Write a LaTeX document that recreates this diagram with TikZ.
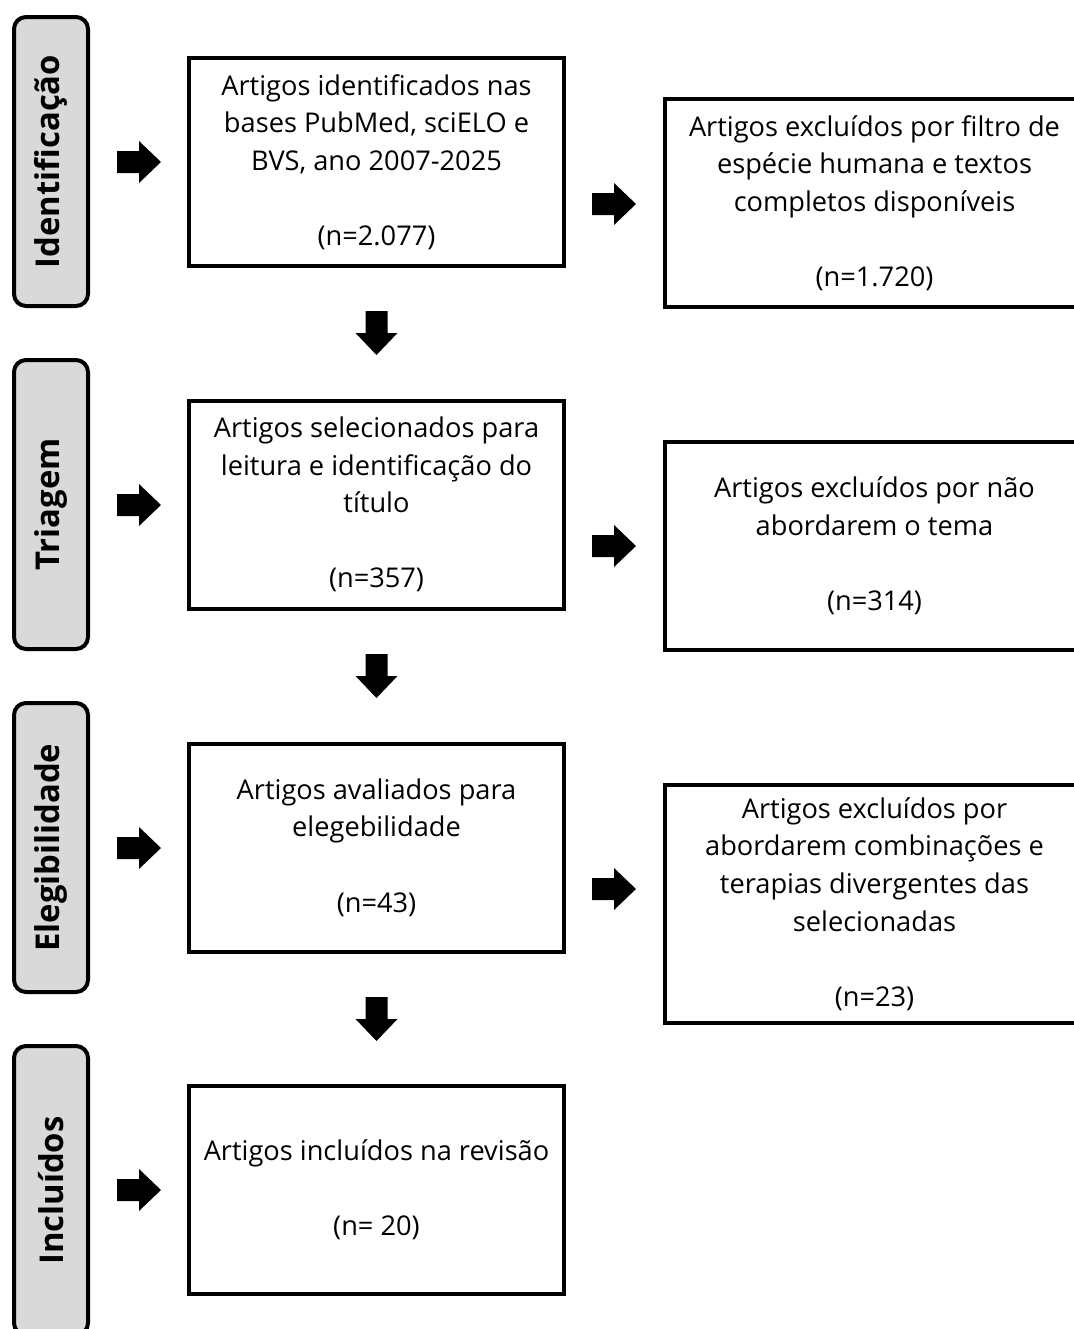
\documentclass[tikz,border=0pt]{standalone}
\usepackage{fontspec}
\setmainfont{Open Sans}
\begin{document}
\begin{tikzpicture}[x=0.75pt,y=-0.75pt,
  lbl/.style={draw=black,line width=3pt,fill=labelgray,rounded corners=9pt,
    minimum width=74*0.75pt,minimum height=289*0.75pt,inner sep=0pt},
  lbltext/.style={rotate=90,font=\fontsize{24.6pt}{28pt}\selectfont\bfseries},
  box/.style={draw=black,line width=3pt,fill=white,minimum width=375*0.75pt,
    minimum height=208*0.75pt,align=center,inner sep=0pt,
    font=\fontsize{20.4pt}{28.2pt}\selectfont},
  rbox/.style={box,minimum width=419*0.75pt},
  barrow/.pic={\fill[black] (0,-11) -- (22,-11) -- (22,-21) -- (44,0) -- (22,21) -- (22,11) -- (0,11) -- cycle;}
]
\definecolor{labelgray}{HTML}{D9D9D9}
\useasboundingbox (0,0) rectangle (1074,1329);
\clip (0,0) rectangle (1074,1329);
% stage labels
\node[lbl] (l1) at (51,161.5) {};
\node[lbltext] (t1) at (l1.center) {Identificação};
\node[lbl] (l2) at (51,504.5) {};
\node[lbltext] (t2) at (l2.center) {Triagem};
\node[lbl] (l3) at (51,847.5) {};
\node[lbltext] (t3) at (l3.center) {Elegibilidade};
\node[lbl] (l4) at (51,1190.5) {};
\node[lbltext] (t4) at (l4.center) {Incluídos};
% main boxes
\node[box] (b1) at (376.5,162) {Artigos identificados nas\\bases PubMed, sciELO e\\BVS, ano 2007-2025\\[28.2pt](n=2.077)};
\node[box] (b2) at (376.5,504.5) {Artigos selecionados para\\leitura e identificação do\\título\\[28.2pt](n=357)};
\node[box] (b3) at (376.5,847.5) {Artigos avaliados para\\elegebilidade\\[28.2pt](n=43)};
\node[box] (b4) at (376.5,1190) {Artigos incluídos na revisão\\[28.2pt](n= 20)};
% excluded boxes
\node[rbox] (r1) at (874.5,203) {Artigos excluídos por filtro de\\espécie humana e textos\\completos disponíveis\\[28.2pt](n=1.720)};
\node[rbox] (r2) at (874.5,546) {Artigos excluídos por não\\abordarem o tema\\[28.2pt](n=314)};
\node[rbox,minimum height=238*0.75pt] (r3) at (874.5,904) {Artigos excluídos por\\abordarem combinações e\\terapias divergentes das\\selecionadas\\[28.2pt](n=23)};
% block arrows
\pic at (117,162) {barrow};
\pic at (117,505) {barrow};
\pic at (117,848) {barrow};
\pic at (117,1190) {barrow};
\pic at (592,204) {barrow};
\pic at (592,546) {barrow};
\pic at (592,889) {barrow};
\pic[rotate=-90] at (376.5,311) {barrow};
\pic[rotate=-90] at (376.5,654) {barrow};
\pic[rotate=-90] at (376.5,997) {barrow};
\end{tikzpicture}
\end{document}
